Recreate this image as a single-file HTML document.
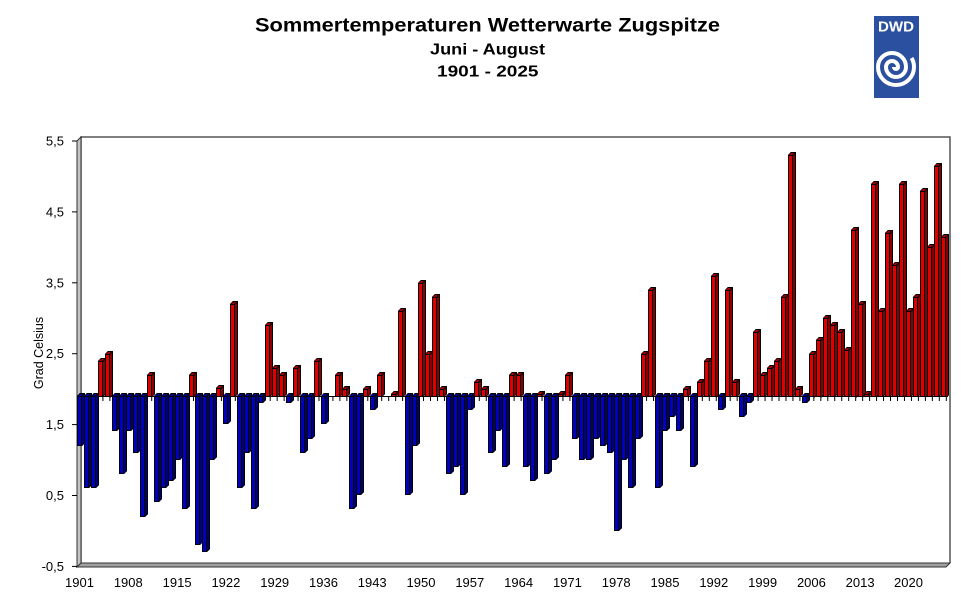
<!DOCTYPE html>
<html><head><meta charset="utf-8">
<style>
html,body{margin:0;padding:0;background:#fff;}
body{width:967px;height:605px;overflow:hidden;position:relative;font-family:"Liberation Sans",Arial,sans-serif;}
svg{position:absolute;left:0;top:0;}
.r{position:absolute;left:77px;top:0;height:0;display:flex;align-items:flex-start;}
.r i{flex:none;display:block;width:5px;margin-right:1.97px;box-sizing:border-box;border:1px solid #000;position:relative;}
.r i::before{content:"";position:absolute;left:-1px;top:-4px;width:5px;height:3px;box-sizing:border-box;border:1px solid #000;border-bottom:0;transform-origin:0 100%;transform:skewX(-45deg);}
.r i::after{content:"";position:absolute;left:4px;top:-1px;width:3px;height:calc(100% + 2px);box-sizing:border-box;border:1px solid #000;border-left:0;transform-origin:0 0;transform:skewY(-45deg);}
.r .p{background:#e00000;top:calc(141px + (5.5 - var(--v)) * 70.9px);height:calc((var(--v) - 1.9) * 70.9px + 1px);}
.r .p::before{background:#a80000;}
.r .p::after{background:#8a0000;}
.r .n{background:#0000c0;top:396px;height:calc((1.9 - var(--v)) * 70.9px);}
.r .n::before{background:#000096;}
.r .n::after{background:#000070;}
.r .e{border:0;height:0;}
.r .e::before,.r .e::after{display:none;}
</style></head>
<body>
<svg width="967" height="605" viewBox="0 0 967 605" font-family="Liberation Sans, Arial, sans-serif">
<defs>
<pattern id="tk" patternUnits="userSpaceOnUse" x="81.5" y="0" width="6.97" height="605">
<rect x="0" y="396" width="1" height="5" fill="#000"/>
</pattern>
<clipPath id="lg"><rect x="874" y="16" width="45" height="82"/></clipPath>
</defs>
<!-- back wall -->
<polyline points="81,563 81,137 950,137 950,563" fill="#fff" stroke="#555" stroke-width="1.5"/>
<!-- left wall -->
<polygon points="77,141 81,137 81,563 77,567" fill="#c4c4c4" stroke="#333" stroke-width="1"/>
<!-- floor -->
<polygon points="77,567 81,563 950,563 946,567" fill="#a0a0a0" stroke="#333" stroke-width="1"/>
<!-- baseline axis -->
<line x1="77" y1="396.5" x2="948" y2="396.5" stroke="#000" stroke-width="1"/>
<rect x="77" y="396" width="871" height="5" fill="url(#tk)"/>
<!-- y ticks -->
<g stroke="#000" stroke-width="1">
<line x1="72" y1="141" x2="77" y2="141"/>
<line x1="72" y1="211.9" x2="77" y2="211.9"/>
<line x1="72" y1="282.8" x2="77" y2="282.8"/>
<line x1="72" y1="353.7" x2="77" y2="353.7"/>
<line x1="72" y1="424.6" x2="77" y2="424.6"/>
<line x1="72" y1="495.5" x2="77" y2="495.5"/>
<line x1="72" y1="566.4" x2="77" y2="566.4"/>
</g>
<g font-size="13" fill="#000" text-anchor="end">
<text x="64" y="145.5">5,5</text>
<text x="64" y="216.4">4,5</text>
<text x="64" y="287.3">3,5</text>
<text x="64" y="358.2">2,5</text>
<text x="64" y="429.1">1,5</text>
<text x="64" y="500">0,5</text>
<text x="64" y="570.9">-0,5</text>
</g>
<g font-size="13" fill="#000" text-anchor="middle">
<text x="79.5" y="587">1901</text>
<text x="128.3" y="587">1908</text>
<text x="177.1" y="587">1915</text>
<text x="225.9" y="587">1922</text>
<text x="274.7" y="587">1929</text>
<text x="323.5" y="587">1936</text>
<text x="372.2" y="587">1943</text>
<text x="421" y="587">1950</text>
<text x="469.8" y="587">1957</text>
<text x="518.6" y="587">1964</text>
<text x="567.4" y="587">1971</text>
<text x="616.2" y="587">1978</text>
<text x="665" y="587">1985</text>
<text x="713.8" y="587">1992</text>
<text x="762.6" y="587">1999</text>
<text x="811.4" y="587">2006</text>
<text x="860.1" y="587">2013</text>
<text x="908.5" y="587">2020</text>
</g>
<text transform="translate(43,353) rotate(-90)" font-size="12.5" text-anchor="middle" fill="#000">Grad Celsius</text>
<!-- titles -->
<text x="255" y="31.5" font-size="19" font-weight="bold" fill="#000" textLength="465" lengthAdjust="spacingAndGlyphs">Sommertemperaturen Wetterwarte Zugspitze</text>
<text x="430" y="54.3" font-size="16" font-weight="bold" fill="#000" textLength="115" lengthAdjust="spacingAndGlyphs">Juni - August</text>
<text x="437" y="76.7" font-size="16" font-weight="bold" fill="#000" textLength="101.5" lengthAdjust="spacingAndGlyphs">1901 - 2025</text>
<!-- DWD logo -->
<rect x="874" y="16" width="45" height="82" fill="#2b50a0"/>
<text x="878" y="31.5" font-size="15" font-weight="bold" fill="#fff" textLength="36" lengthAdjust="spacingAndGlyphs">DWD</text>
<path clip-path="url(#lg)" d="M894,67 A2,2 0 0 0 898,67 A6,6 0 0 0 886,67 A10,10 0 0 0 906,67 A14,14 0 0 0 878,67 A18,18 0 0 0 914,67 A18,18 0 0 0 911.6,58" fill="none" stroke="#fff" stroke-width="4"/>
</svg>
<div class="r">
<i class="n" style="--v:1.2"></i><i class="n" style="--v:0.6"></i><i class="n" style="--v:0.6"></i><i class="p" style="--v:2.4"></i><i class="p" style="--v:2.5"></i><i class="n" style="--v:1.4"></i><i class="n" style="--v:0.8"></i><i class="n" style="--v:1.4"></i><i class="n" style="--v:1.1"></i><i class="n" style="--v:0.2"></i>
<i class="p" style="--v:2.2"></i><i class="n" style="--v:0.4"></i><i class="n" style="--v:0.6"></i><i class="n" style="--v:0.7"></i><i class="n" style="--v:1.0"></i><i class="n" style="--v:0.3"></i><i class="p" style="--v:2.2"></i><i class="n" style="--v:-0.2"></i><i class="n" style="--v:-0.3"></i><i class="n" style="--v:1.0"></i>
<i class="p" style="--v:2.02"></i><i class="n" style="--v:1.5"></i><i class="p" style="--v:3.2"></i><i class="n" style="--v:0.6"></i><i class="n" style="--v:1.1"></i><i class="n" style="--v:0.3"></i><i class="n" style="--v:1.8"></i><i class="p" style="--v:2.9"></i><i class="p" style="--v:2.3"></i><i class="p" style="--v:2.2"></i>
<i class="n" style="--v:1.8"></i><i class="p" style="--v:2.3"></i><i class="n" style="--v:1.1"></i><i class="n" style="--v:1.3"></i><i class="p" style="--v:2.4"></i><i class="n" style="--v:1.5"></i><i class="e"></i><i class="p" style="--v:2.2"></i><i class="p" style="--v:2.0"></i><i class="n" style="--v:0.3"></i>
<i class="n" style="--v:0.5"></i><i class="p" style="--v:2.0"></i><i class="n" style="--v:1.7"></i><i class="p" style="--v:2.2"></i><i class="e"></i><i class="p" style="--v:1.93"></i><i class="p" style="--v:3.1"></i><i class="n" style="--v:0.5"></i><i class="n" style="--v:1.2"></i><i class="p" style="--v:3.5"></i>
<i class="p" style="--v:2.5"></i><i class="p" style="--v:3.3"></i><i class="p" style="--v:2.0"></i><i class="n" style="--v:0.8"></i><i class="n" style="--v:0.9"></i><i class="n" style="--v:0.5"></i><i class="n" style="--v:1.7"></i><i class="p" style="--v:2.1"></i><i class="p" style="--v:2.0"></i><i class="n" style="--v:1.1"></i>
<i class="n" style="--v:1.4"></i><i class="n" style="--v:0.9"></i><i class="p" style="--v:2.2"></i><i class="p" style="--v:2.2"></i><i class="n" style="--v:0.9"></i><i class="n" style="--v:0.7"></i><i class="p" style="--v:1.93"></i><i class="n" style="--v:0.8"></i><i class="n" style="--v:1.0"></i><i class="p" style="--v:1.93"></i>
<i class="p" style="--v:2.2"></i><i class="n" style="--v:1.3"></i><i class="n" style="--v:1.0"></i><i class="n" style="--v:1.0"></i><i class="n" style="--v:1.3"></i><i class="n" style="--v:1.2"></i><i class="n" style="--v:1.1"></i><i class="n" style="--v:0.0"></i><i class="n" style="--v:1.0"></i><i class="n" style="--v:0.6"></i>
<i class="n" style="--v:1.3"></i><i class="p" style="--v:2.5"></i><i class="p" style="--v:3.4"></i><i class="n" style="--v:0.6"></i><i class="n" style="--v:1.4"></i><i class="n" style="--v:1.6"></i><i class="n" style="--v:1.4"></i><i class="p" style="--v:2.0"></i><i class="n" style="--v:0.9"></i><i class="p" style="--v:2.1"></i>
<i class="p" style="--v:2.4"></i><i class="p" style="--v:3.6"></i><i class="n" style="--v:1.7"></i><i class="p" style="--v:3.4"></i><i class="p" style="--v:2.1"></i><i class="n" style="--v:1.6"></i><i class="n" style="--v:1.8"></i><i class="p" style="--v:2.8"></i><i class="p" style="--v:2.2"></i><i class="p" style="--v:2.3"></i>
<i class="p" style="--v:2.4"></i><i class="p" style="--v:3.3"></i><i class="p" style="--v:5.3"></i><i class="p" style="--v:2.0"></i><i class="n" style="--v:1.8"></i><i class="p" style="--v:2.5"></i><i class="p" style="--v:2.7"></i><i class="p" style="--v:3.0"></i><i class="p" style="--v:2.9"></i><i class="p" style="--v:2.8"></i>
<i class="p" style="--v:2.55"></i><i class="p" style="--v:4.25"></i><i class="p" style="--v:3.2"></i><i class="p" style="--v:1.93"></i><i class="p" style="--v:4.9"></i><i class="p" style="--v:3.1"></i><i class="p" style="--v:4.2"></i><i class="p" style="--v:3.75"></i><i class="p" style="--v:4.9"></i><i class="p" style="--v:3.1"></i>
<i class="p" style="--v:3.3"></i><i class="p" style="--v:4.8"></i><i class="p" style="--v:4.0"></i><i class="p" style="--v:5.15"></i><i class="p" style="--v:4.15"></i>
</div>
</body></html>
